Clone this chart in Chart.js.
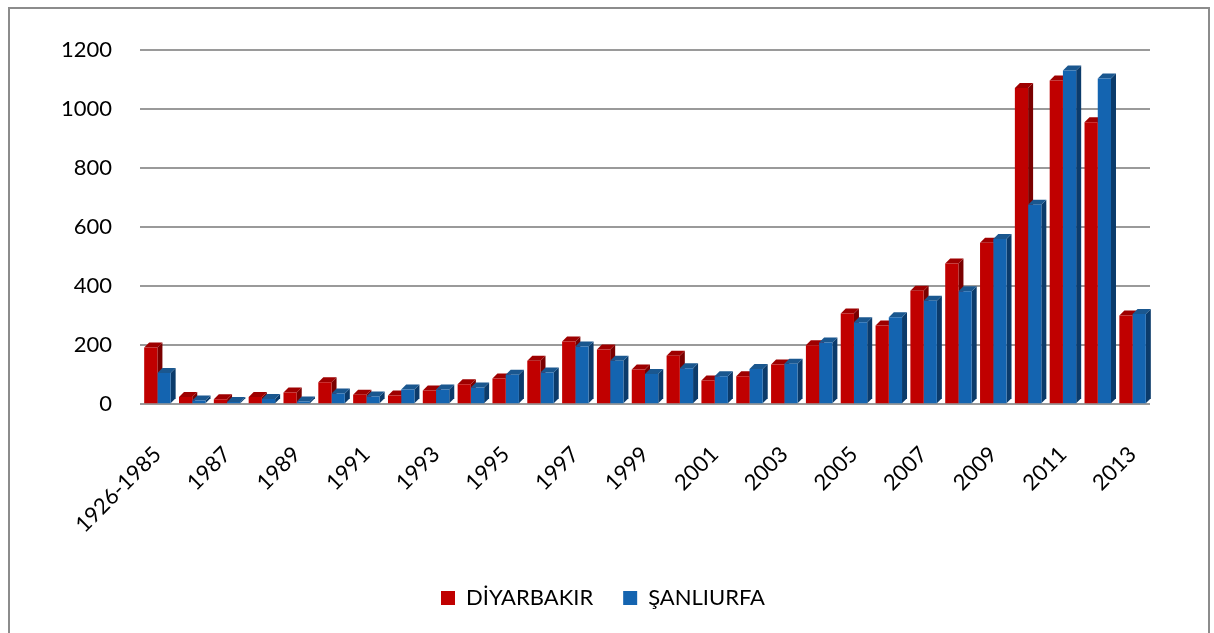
<!DOCTYPE html>
<html>
<head>
<meta charset="utf-8">
<script src="https://cdn.jsdelivr.net/npm/chart.js@4/dist/chart.umd.min.js"></script>
<style>
    html, body { margin: 0; padding: 0; background: #fff; overflow: hidden; }
    #frame {
        position: absolute; left: 8px; top: 7px;
        width: 1202px; height: 640px;
        border: 2px solid #8c8c8c; box-sizing: border-box;
    }
    #wrap { position: absolute; left: 0; top: 0; width: 1198px; height: 636px; }
</style>
</head>
<body>
<div id="frame"><div id="wrap"><canvas id="chart"></canvas></div></div>
<script>
const years = ['1926-1985', '1986', '1987', '1988', '1989', '1990', '1991', '1992', '1993', '1994',
    '1995', '1996', '1997', '1998', '1999', '2000', '2001', '2002', '2003', '2004',
    '2005', '2006', '2007', '2008', '2009', '2010', '2011', '2012', '2013'];

const diyarbakir = [193, 25, 17, 25, 40, 75, 33, 30, 47, 68,
    88, 148, 213, 186, 118, 165, 81, 95, 135, 200,
    308, 267, 385, 477, 548, 1072, 1097, 956, 301];

const sanliurfa = [106, 13, 8, 18, 10, 37, 27, 50, 50, 57,
    100, 108, 196, 148, 103, 122, 95, 120, 138, 210,
    278, 295, 351, 383, 560, 676, 1131, 1104, 306];

const yTicks = [0, 200, 400, 600, 800, 1000, 1200];

const faceColors = {
    0: { front: '#C00000', side: '#7a0000', top: '#9e0000' },
    1: { front: '#1464B0', side: '#0b3b6b', top: '#1a578f' }
};

// fake the 3d look: side + top faces drawn behind the front faces
const bars3d = {
    id: 'bars3d',
    beforeDatasetsDraw(chart) {
        const ctx = chart.ctx;
        const d = 5;
        chart.data.datasets.forEach((ds, i) => {
            const meta = chart.getDatasetMeta(i);
            const c = faceColors[i];
            meta.data.forEach(bar => {
                const l = bar.x - bar.width / 2;
                const r = bar.x + bar.width / 2;
                const t = bar.y;
                const b = bar.base;
                ctx.save();
                ctx.fillStyle = c.side;
                ctx.beginPath();
                ctx.moveTo(r, t);
                ctx.lineTo(r + d, t - d);
                ctx.lineTo(r + d, b - d);
                ctx.lineTo(r, b);
                ctx.closePath();
                ctx.fill();
                ctx.fillStyle = c.top;
                ctx.beginPath();
                ctx.moveTo(l, t);
                ctx.lineTo(l + d, t - d);
                ctx.lineTo(r + d, t - d);
                ctx.lineTo(r, t);
                ctx.closePath();
                ctx.fill();
                ctx.restore();
            });
        });
    }
};

new Chart(document.getElementById('chart'), {
    type: 'bar',
    data: {
        labels: years,
        datasets: [
            { label: 'DİYARBAKIR', data: diyarbakir, backgroundColor: faceColors[0].front },
            { label: 'ŞANLIURFA', data: sanliurfa, backgroundColor: faceColors[1].front }
        ]
    },
    options: {
        responsive: true,
        maintainAspectRatio: false,
        animation: false,
        layout: { padding: { top: 28, right: 58, bottom: 26, left: 46 } },
        datasets: {
            bar: { categoryPercentage: 0.76, barPercentage: 1 }
        },
        scales: {
            x: {
                grid: { display: false },
                border: { display: false },
                afterFit: axis => { axis.height -= 10; },
                ticks: {
                    autoSkip: false,
                    maxRotation: 45,
                    minRotation: 45,
                    padding: 29,
                    color: '#000',
                    font: { family: 'Lato', size: 22 },
                    callback: function (val, idx) {
                        return idx % 2 === 0 ? this.getLabelForValue(val) : '';
                    }
                }
            },
            y: {
                min: 0,
                max: 1200,
                afterBuildTicks: axis => { axis.ticks = yTicks.map(v => ({ value: v })); },
                afterFit: axis => { axis.width = 84; },
                border: { display: false },
                grid: { color: '#9a9a9a', lineWidth: 2, drawTicks: false },
                ticks: {
                    color: '#000',
                    padding: 28,
                    font: { family: 'Lato', size: 22 },
                    callback: v => String(v)
                }
            }
        },
        plugins: {
            legend: {
                position: 'bottom',
                labels: {
                    color: '#000',
                    boxWidth: 14,
                    boxHeight: 14,
                    padding: 30,
                    font: { family: 'Lato', size: 22 }
                }
            },
            tooltip: { enabled: false }
        }
    },
    plugins: [bars3d]
});
</script>
</body>
</html>
